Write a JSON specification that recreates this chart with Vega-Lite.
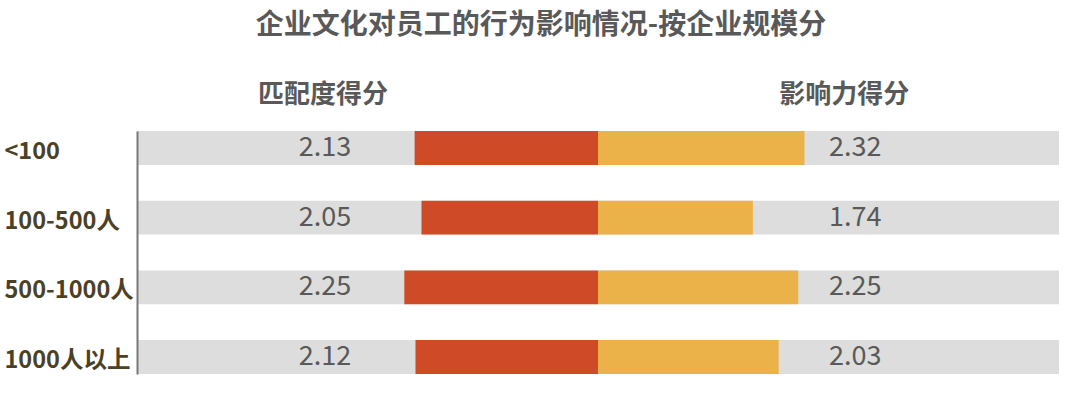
{
  "$schema": "https://vega.github.io/schema/vega-lite/v6.json",
  "width": 922,
  "height": 243,
  "autosize": "none",
  "padding": {"left": 137, "top": 131, "right": 21, "bottom": 22},
  "background": "white",
  "config": {"view": {"stroke": null}, "font": "Noto Sans CJK SC"},
  "title": {
    "text": "企业文化对员工的行为影响情况-按企业规模分",
    "font": "Noto Sans CJK SC",
    "fontSize": 28,
    "fontWeight": "bold",
    "color": "#595959",
    "anchor": "middle",
    "dx": -57,
    "offset": 41
  },
  "datasets": {
    "left": [
      {"size": "<100", "metric": "匹配度得分", "value": 2.13},
      {"size": "100-500人", "metric": "匹配度得分", "value": 2.05},
      {"size": "500-1000人", "metric": "匹配度得分", "value": 2.25},
      {"size": "1000人以上", "metric": "匹配度得分", "value": 2.12}
    ],
    "right": [
      {"size": "<100", "metric": "影响力得分", "value": 2.32},
      {"size": "100-500人", "metric": "影响力得分", "value": 1.74},
      {"size": "500-1000人", "metric": "影响力得分", "value": 2.25},
      {"size": "1000人以上", "metric": "影响力得分", "value": 2.03}
    ]
  },
  "encoding": {
    "y": {
      "field": "size",
      "type": "nominal",
      "sort": ["<100", "100-500人", "500-1000人", "1000人以上"],
      "scale": {"paddingInner": 0.514, "paddingOuter": 0},
      "axis": {
        "title": null,
        "ticks": false,
        "tickSize": 0,
        "grid": false,
        "zindex": 1,
        "labelAlign": "left",
        "labelBaseline": "middle",
        "labelPadding": 133,
        "labelOffset": 4,
        "labelFontSize": 23.5,
        "labelFontWeight": "bold",
        "labelColor": "#4a4126",
        "labelFont": "Noto Sans CJK SC",
        "domainColor": "#777777",
        "domainWidth": 2
      }
    }
  },
  "layer": [
    {
      "data": {"name": "right"},
      "mark": {"type": "bar", "color": "#dcdddc"},
      "encoding": {
        "x": {
          "datum": -5.27,
          "type": "quantitative",
          "scale": {"domain": [-5.27, 5.27], "nice": false, "zero": false},
          "axis": {
            "orient": "top",
            "title": null,
            "values": [-3.15, 2.81],
            "labelExpr": "datum.value < 0 ? '匹配度得分' : '影响力得分'",
            "ticks": false,
            "domain": false,
            "grid": false,
            "labelPadding": 24,
            "labelFontSize": 26,
            "labelFontWeight": "bold",
            "labelColor": "#595959",
            "labelFont": "Noto Sans CJK SC"
          }
        },
        "x2": {"datum": 5.27}
      }
    },
    {
      "data": {"name": "right"},
      "mark": {"type": "bar", "color": "#ebb24a"},
      "encoding": {
        "x": {
          "field": "value",
          "type": "quantitative",
          "scale": {"domain": [-5.18, 5.18], "nice": false, "zero": false},
          "axis": null
        },
        "x2": {"datum": 0}
      }
    },
    {
      "data": {"name": "right"},
      "mark": {"type": "text", "fontSize": 27, "color": "#595959", "align": "center", "baseline": "middle", "font": "Noto Sans CJK SC", "fontWeight": "normal"},
      "encoding": {
        "x": {
          "datum": 2.89,
          "type": "quantitative",
          "scale": {"domain": [-5.18, 5.18], "nice": false, "zero": false},
          "axis": null
        },
        "text": {"field": "value", "type": "quantitative", "format": ".2f"}
      }
    },
    {
      "data": {"name": "left"},
      "mark": {"type": "bar", "color": "#cf4a26"},
      "encoding": {
        "x": {
          "field": "value",
          "type": "quantitative",
          "scale": {"domain": [-5.355, 5.355], "nice": false, "zero": false, "reverse": true},
          "axis": null
        },
        "x2": {"datum": 0}
      }
    },
    {
      "data": {"name": "left"},
      "mark": {"type": "text", "fontSize": 27, "color": "#595959", "align": "center", "baseline": "middle", "font": "Noto Sans CJK SC", "fontWeight": "normal"},
      "encoding": {
        "x": {
          "datum": 3.17,
          "type": "quantitative",
          "scale": {"domain": [-5.355, 5.355], "nice": false, "zero": false, "reverse": true},
          "axis": null
        },
        "text": {"field": "value", "type": "quantitative", "format": ".2f"}
      }
    },
    {
      "data": {"name": "right"},
      "mark": {"type": "rule", "color": "#777777", "strokeWidth": 2},
      "encoding": {
        "x": {
          "datum": 0,
          "type": "quantitative",
          "scale": {"domain": [-5.27, 5.27], "nice": false, "zero": false},
          "axis": null
        }
      }
    }
  ],
  "resolve": {"scale": {"x": "independent"}}
}
